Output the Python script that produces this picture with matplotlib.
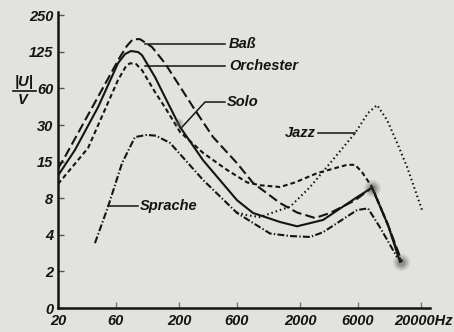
import numpy as np
import matplotlib.pyplot as plt

# frequency (Hz) and |U|/V readings for each programme type
freq_bass = [20, 22.8, 65.1, 74.2, 83.3, 95.2, 119.6, 153, 212, 271, 382, 603, 818, 1367, 1889, 2662, 3539, 5700, 7870, 10670, 13930]
val_bass = [13.3, 16.4, 113, 140, 159, 159, 137, 99.5, 58.4, 39.9, 23.9, 14.6, 10.4, 7.3, 6.1, 5.5, 6.05, 7.7, 9.6, 4.8, 2.39]

freq_orch = [20, 27.6, 42.8, 62.6, 71.6, 80.2, 91.7, 98.9, 126.7, 162, 204, 316, 603, 818, 1367, 1889, 3097, 5920, 7870, 10670, 13400]
val_orch = [11.8, 18.7, 42, 99.5, 119.6, 127, 124.6, 117, 75.3, 45.5, 28.9, 15.4, 7.7, 6.05, 5.1, 4.7, 5.3, 8.15, 9.6, 4.8, 2.39]

freq_solo = [20, 35.4, 62.6, 73, 78.7, 88.3, 98.9, 126.7, 153, 204, 316, 499, 730, 934, 1367, 1820, 2762, 4890, 5700, 6510, 7870, 10670, 13660]
val_solo = [10.2, 19.4, 71, 93.9, 99.5, 97.9, 86.6, 56, 42, 26.3, 17.7, 13, 10.5, 10.0, 9.7, 10.5, 12.3, 14.2, 14.2, 12.5, 9.7, 4.8, 2.39]

freq_jazz = [603, 730, 934, 1367, 1653, 2420, 3539, 5700, 7290, 8660, 10470, 12670, 15320, 20370]
val_jazz = [6.1, 5.8, 5.6, 6.4, 6.8, 9.7, 14.6, 25.8, 37.7, 43.8, 33, 21.4, 13.7, 6.4]

freq_speech = [40.4, 51.8, 67.6, 86.5, 108.8, 129, 168.5, 316, 603, 1130, 1653, 2420, 3097, 5920, 7290, 9160, 12670]
val_speech = [3.42, 6.8, 14.6, 23.9, 24.9, 24.5, 21.4, 10.95, 6.05, 4.1, 3.91, 3.84, 4.2, 6.4, 6.6, 4.6, 2.62]

x_ticks = [20, 60, 200, 600, 2000, 6000, 20000]
x_ticklabels = ['20', '60', '200', '600', '2000', '6000', '']
y_ticks = [1, 2, 4, 8, 15, 30, 60, 125, 250]
y_ticklabels = ['0', '2', '4', '8', '15', '30', '60', '125', '250']

plt.rcParams['font.family'] = ['Liberation Sans', 'DejaVu Sans']
plt.rcParams['font.weight'] = 'bold'
plt.rcParams['font.style'] = 'italic'
plt.rcParams['lines.scale_dashes'] = False

ink = '#141414'
paper = '#e2e3de'

# equal vertical step between the labelled levels
lvl_vals = np.log([0.5] + y_ticks + [500])
lvl_idx = np.arange(-1, len(y_ticks) + 1)


def to_level(v):
    v = np.clip(np.asarray(v, dtype=float), 1e-6, None)
    return np.interp(np.log(v), lvl_vals, lvl_idx)


def from_level(i):
    return np.exp(np.interp(np.asarray(i, dtype=float), lvl_idx, lvl_vals))


fig = plt.figure(figsize=(4.54, 3.32), dpi=100, facecolor=paper)
ax = fig.add_axes([58 / 454, 1 - 308 / 332, 372 / 454, 296 / 332])
ax.set_facecolor(paper)
ax.set_xscale('log')
ax.set_yscale('function', functions=(to_level, from_level))
ax.set_xlim(20, 23700)
ax.set_ylim(1, 266)

lw = 1.5
ax.plot(freq_bass, val_bass, color=ink, lw=lw, dashes=(7, 3))
ax.plot(freq_orch, val_orch, color=ink, lw=lw)
ax.plot(freq_solo, val_solo, color=ink, lw=lw, dashes=(3.4, 2.2))
ax.plot(freq_jazz, val_jazz, color=ink, lw=lw, dashes=(1.1, 2.1))
ax.plot(freq_speech, val_speech, color=ink, lw=lw, dashes=(5, 1.6, 1, 1.6))

# smudged joints where the curves meet
for ms, a in [(12, 0.12), (9, 0.18), (6, 0.25)]:
    ax.plot([7870, 13600], [9.6, 2.4], ls='none', marker='o', ms=ms,
            mfc='#333333', mec='none', alpha=a)
    ax.plot([196], [31], ls='none', marker='o', ms=ms * 0.6,
            mfc='#555555', mec='none', alpha=a)

# label leaders
lead = dict(color=ink, lw=1.1)
ax.plot([104.8, 479], [145, 145], **lead)
ax.plot([104.8, 479], [93.9, 93.9], **lead)
ax.plot([212, 328, 479], [28.9, 46.4, 46.4], **lead)
ax.plot([2825, 5700], [25.7, 25.7], **lead)
ax.plot([51.8, 91.7], [6.9, 6.9], **lead)

fs = 10.5
ax.text(518, 145, 'Baß', fontsize=fs, va='center', color=ink)
ax.text(518, 93.9, 'Orchester', fontsize=fs, va='center', color=ink)
ax.text(498, 46.4, 'Solo', fontsize=fs, va='center', color=ink)
ax.text(2700, 25.7, 'Jazz', fontsize=fs, va='center', ha='right', color=ink)
ax.text(95, 6.9, 'Sprache', fontsize=fs, va='center', color=ink)

for side in ['top', 'right']:
    ax.spines[side].set_visible(False)
for side in ['left', 'bottom']:
    ax.spines[side].set_linewidth(1.8)
    ax.spines[side].set_color(ink)

ax.set_xticks(x_ticks)
ax.set_xticklabels(x_ticklabels)
ax.xaxis.set_minor_locator(plt.NullLocator())
ax.set_yticks(y_ticks)
ax.set_yticklabels(y_ticklabels)
ax.yaxis.set_minor_locator(plt.NullLocator())
ax.tick_params(axis='x', direction='in', length=4, width=1, color='#777777',
               labelsize=fs, pad=4, labelcolor=ink)
ax.tick_params(axis='y', direction='in', length=4, width=1, color='#555555',
               labelsize=fs, pad=3.5, labelcolor=ink)

# last frequency label carries the unit
fig.text(453 / 454, 1 - 314 / 332, '20000Hz', fontsize=fs, ha='right', va='top', color=ink)

# quantity on the vertical axis, written as a fraction
fig.text(24 / 454, 1 - 82 / 332, '|U|', fontsize=fs, ha='center', va='center', color=ink)
fig.add_artist(plt.Line2D([13 / 454, 36 / 454], [1 - 91 / 332, 1 - 91 / 332],
                          color=ink, lw=1.2, transform=fig.transFigure))
fig.text(23 / 454, 1 - 100 / 332, 'V', fontsize=fs, ha='center', va='center', color=ink)

fig.savefig('out.png', dpi=100, facecolor=paper)
